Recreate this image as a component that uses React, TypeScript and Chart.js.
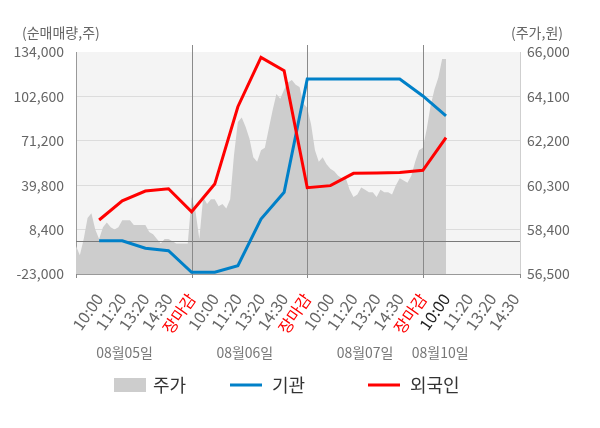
import React, { useEffect, useRef } from 'react';
import { Chart, registerables } from 'chart.js';

Chart.register(...registerables);

const FONT = "'Noto Sans CJK KR', 'Noto Sans', sans-serif";

// x axis: one unit per interval, 0 = day-1 open, 5 / 10 / 15 = day closes
const TIME_LABELS = [
  '10:00', '11:20', '13:20', '14:30', '장마감',
  '10:00', '11:20', '13:20', '14:30', '장마감',
  '10:00', '11:20', '13:20', '14:30', '장마감',
  '10:00', '11:20', '13:20', '14:30',
];
const DAY_CLOSES = [5, 10, 15];
const DATE_LABELS = ['08월05일', '08월06일', '08월07일', '08월10일'];
const DATE_AT = [2.1, 7.3, 12.5, 15.75];
const X_MAX = 19.2;

const LEFT_TICKS = [-23000, 8400, 39800, 71200, 102600, 134000];
const RIGHT_TICKS = [56500, 58400, 60300, 62200, 64100, 66000];

// net buying (shares) at each time label, up to 08/10 10:00
const INSTITUTION = [
  500, 500, -4800, -6500, -21800,
  -21800, -17100, 15900, 34800, 114900,
  114900, 114900, 114900, 114900, 102900,
  88900,
];
const FOREIGN = [
  15200, 28800, 35700, 37300, 21000,
  40600, 95300, 130200, 120800, 38000,
  39500, 48200, 48400, 48800, 50300,
  73400,
];

// share price (won), 6 readings per interval starting at 08/05 open
const PRICE_PER_UNIT = 6;
const PRICE = [
  // 08/05
  57700, 57300, 58000, 58900, 59100, 58400, 58000, 58500, 58700, 58500,
  58400, 58500, 58800, 58800, 58800, 58600, 58600, 58600, 58600, 58300,
  58200, 58000, 57800, 58000, 58000, 57900, 57800, 57800, 57800, 57800,
  // 08/06
  59800, 59200, 58000, 59800, 59500, 59700, 59700, 59400, 59500, 59300,
  59700, 61600, 63000, 63200, 62800, 62300, 61500, 61300, 61800, 61900,
  62700, 63500, 64200, 64000, 64400, 64700, 64800, 64600, 64500, 63800,
  // 08/07
  63600, 62900, 61800, 61300, 61500, 61200, 61000, 60900, 60700, 60600,
  60600, 60100, 59800, 59900, 60200, 60100, 60000, 60000, 59800, 60100,
  60000, 60000, 59900, 60300, 60600, 60500, 60400, 60700, 61300, 61800,
  // 08/10
  61900, 62700, 63700, 64400, 64900, 65700, 65700,
];

const BLUE = '#0080c8';
const RED = '#ff0000';
const AREA = '#cdcdcd';

const decor = {
  id: 'decor',
  beforeDraw(chart) {
    const { ctx, chartArea: a } = chart;
    ctx.save();
    ctx.fillStyle = '#f4f4f4';
    ctx.fillRect(a.left, a.top, a.right - a.left, a.bottom - a.top);
    ctx.restore();
  },
  afterDatasetDraw(chart, args) {
    if (args.meta.yAxisID !== 'y1') return;
    const { ctx, chartArea: a, scales } = chart;
    ctx.save();
    ctx.lineWidth = 1;
    // zero line of net buying
    const y0 = Math.round(scales.y.getPixelForValue(0)) + 0.5;
    ctx.strokeStyle = '#7a7a7a';
    ctx.beginPath();
    ctx.moveTo(a.left, y0);
    ctx.lineTo(a.right, y0);
    ctx.stroke();
    // day separators
    ctx.strokeStyle = '#8a8a8a';
    DAY_CLOSES.forEach((v) => {
      const x = Math.round(scales.x.getPixelForValue(v)) + 0.5;
      ctx.beginPath();
      ctx.moveTo(x, a.top - 7);
      ctx.lineTo(x, a.bottom + 4);
      ctx.stroke();
    });
    [0, X_MAX].forEach((v) => {
      const x = Math.round(scales.x.getPixelForValue(v)) + 0.5;
      ctx.beginPath();
      ctx.moveTo(x, a.bottom);
      ctx.lineTo(x, a.bottom + 4);
      ctx.stroke();
    });
    ctx.restore();
  },
  afterDraw(chart) {
    const { ctx, chartArea: a, scales } = chart;
    ctx.save();
    ctx.textBaseline = 'middle';
    ctx.font = `14px ${FONT}`;
    ctx.fillStyle = '#666';
    ctx.textAlign = 'left';
    ctx.fillText('(순매매량,주)', 22, a.top - 19);
    ctx.textAlign = 'right';
    ctx.fillText('(주가,원)', 563, a.top - 19);

    ctx.fillStyle = '#777';
    ctx.textAlign = 'center';
    DATE_LABELS.forEach((d, i) => {
      ctx.fillText(d, scales.x.getPixelForValue(DATE_AT[i]), a.bottom + 79);
    });

    // legend
    const ly = 385;
    ctx.font = `18px ${FONT}`;
    ctx.textAlign = 'left';
    ctx.fillStyle = AREA;
    ctx.fillRect(114, ly - 7, 32, 14);
    ctx.fillStyle = BLUE;
    ctx.fillRect(230, ly - 1.5, 32, 3);
    ctx.fillStyle = RED;
    ctx.fillRect(368, ly - 1.5, 32, 3);
    ctx.fillStyle = '#333';
    ctx.fillText('주가', 153, ly);
    ctx.fillText('기관', 272, ly);
    ctx.fillText('외국인', 410, ly);
    ctx.restore();
  },
};

const App = () => {
  const canvasRef = useRef(null);
  const chartRef = useRef(null);

  useEffect(() => {
    if (chartRef.current) chartRef.current.destroy();
    const current = INSTITUTION.length;
    chartRef.current = new Chart(canvasRef.current.getContext('2d'), {
      type: 'line',
      data: {
        datasets: [
          {
            label: '주가',
            data: PRICE.map((v, i) => ({ x: i / PRICE_PER_UNIT, y: v })),
            yAxisID: 'y1',
            backgroundColor: AREA,
            borderWidth: 0,
            pointRadius: 0,
            fill: 'start',
            order: 3,
          },
          {
            label: '기관',
            data: INSTITUTION.map((v, i) => ({ x: i + 1, y: v })),
            yAxisID: 'y',
            borderColor: BLUE,
            borderWidth: 3,
            pointRadius: 0,
            fill: false,
            order: 2,
          },
          {
            label: '외국인',
            data: FOREIGN.map((v, i) => ({ x: i + 1, y: v })),
            yAxisID: 'y',
            borderColor: RED,
            borderWidth: 3,
            pointRadius: 0,
            fill: false,
            order: 1,
          },
        ],
      },
      options: {
        animation: false,
        responsive: true,
        maintainAspectRatio: false,
        layout: { padding: { top: 52, left: 0, right: 0, bottom: 0 } },
        plugins: {
          legend: { display: false },
          tooltip: { enabled: false },
        },
        scales: {
          x: {
            type: 'linear',
            min: 0,
            max: X_MAX,
            afterBuildTicks: (scale) => {
              scale.ticks = TIME_LABELS.map((_, i) => ({ value: i + 1 }));
            },
            afterFit: (scale) => {
              scale.height = 154;
            },
            grid: { display: false },
            border: { display: true, color: '#999' },
            ticks: {
              autoSkip: false,
              minRotation: 55,
              maxRotation: 55,
              padding: 8,
              font: { family: FONT, size: 16 },
              callback: (v) => TIME_LABELS[v - 1] ?? '',
              color: (ctx) => {
                const v = ctx.tick.value;
                if (TIME_LABELS[v - 1] === '장마감') return RED;
                if (v === current) return '#222';
                return '#666';
              },
            },
          },
          y: {
            position: 'left',
            min: LEFT_TICKS[0],
            max: LEFT_TICKS[LEFT_TICKS.length - 1],
            afterBuildTicks: (scale) => {
              scale.ticks = LEFT_TICKS.map((value) => ({ value }));
            },
            afterFit: (scale) => {
              scale.width = 76;
            },
            grid: {
              drawTicks: false,
              color: (ctx) => (ctx.tick.value === LEFT_TICKS[LEFT_TICKS.length - 1] ? 'rgba(0,0,0,0)' : '#dcdcdc'),
            },
            border: { display: true, color: '#999' },
            ticks: {
              padding: 12,
              color: '#666',
              font: { family: FONT, size: 14 },
              callback: (v) => Number(v).toLocaleString('en-US'),
            },
          },
          y1: {
            position: 'right',
            min: RIGHT_TICKS[0],
            max: RIGHT_TICKS[RIGHT_TICKS.length - 1],
            afterBuildTicks: (scale) => {
              scale.ticks = RIGHT_TICKS.map((value) => ({ value }));
            },
            afterFit: (scale) => {
              scale.width = 80;
            },
            grid: { display: false, drawTicks: false },
            border: { display: true, color: '#cfcfcf' },
            ticks: {
              padding: 7,
              color: '#666',
              font: { family: FONT, size: 14 },
              callback: (v) => Number(v).toLocaleString('en-US'),
            },
          },
        },
      },
      plugins: [decor],
    });
    return () => {
      if (chartRef.current) {
        chartRef.current.destroy();
        chartRef.current = null;
      }
    };
  }, []);

  return (
    <div style={{ position: 'fixed', left: 0, top: 0, width: 600, height: 428, background: '#fff' }}>
      <canvas ref={canvasRef} />
    </div>
  );
};

export default App;
